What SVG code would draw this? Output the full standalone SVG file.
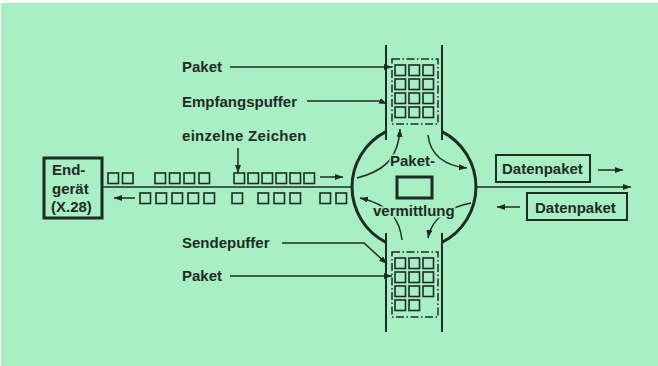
<svg xmlns="http://www.w3.org/2000/svg" width="658" height="366" viewBox="0 0 658 366">
<defs>
<style>
.ink{stroke:#1f2b26;fill:none}
.t{font-family:"Liberation Sans",Arial,sans-serif;font-weight:bold;font-size:15px;fill:#1f2b26}
.halo{stroke:#a8efc3;stroke-width:3;paint-order:stroke}
.sq{stroke:#1f2b26;stroke-width:1.6;fill:none}
.dd{stroke:#1f2b26;stroke-width:1.5;fill:none;stroke-dasharray:8 2.5 1.5 2.5}
.ln{stroke:#1f2b26;stroke-width:1.5;fill:none}
</style>
<marker id="ah" markerUnits="userSpaceOnUse" markerWidth="10" markerHeight="8" refX="8" refY="3" orient="auto">
<path d="M0,0 L8,3 L0,6 z" fill="#1f2b26"/>
</marker>
<rect id="s" width="10.5" height="10.5" class="sq"/>
</defs>
<rect width="658" height="366" fill="#ffffff"/>
<rect x="1" y="3" width="657" height="363" fill="#a8efc3"/>

<g id="endgeraet">
<rect x="44" y="158" width="58" height="60" class="ink" stroke-width="3"/>
<text class="t" x="52" y="175">End-</text>
<text class="t" x="52" y="194">gerät</text>
<text class="t" x="51" y="212">(X.28)</text>
</g>

<g id="zeichen-oben">
<use href="#s" x="108" y="173"/><use href="#s" x="122.5" y="173"/>
<use href="#s" x="155" y="173"/><use href="#s" x="169.5" y="173"/><use href="#s" x="184" y="173"/><use href="#s" x="199" y="173"/>
<use href="#s" x="234" y="173"/><use href="#s" x="248" y="173"/><use href="#s" x="262" y="173"/><use href="#s" x="276" y="173"/><use href="#s" x="290" y="173"/><use href="#s" x="304" y="173"/>
</g>
<g id="zeichen-unten">
<use href="#s" x="140" y="193"/><use href="#s" x="156" y="193"/><use href="#s" x="172" y="193"/><use href="#s" x="188" y="193"/><use href="#s" x="204" y="193"/>
<use href="#s" x="232" y="193"/>
<use href="#s" x="258" y="193"/><use href="#s" x="274" y="193"/><use href="#s" x="290" y="193"/>
<use href="#s" x="320" y="193"/><use href="#s" x="336" y="193"/>
</g>

<g id="empfangspuffer">
<rect x="392" y="59" width="46" height="65" class="dd"/>
<use href="#s" x="395" y="65"/><use href="#s" x="409" y="65"/><use href="#s" x="423" y="65"/>
<use href="#s" x="395" y="79"/><use href="#s" x="409" y="79"/><use href="#s" x="423" y="79"/>
<use href="#s" x="395" y="93"/><use href="#s" x="409" y="93"/><use href="#s" x="423" y="93"/>
<use href="#s" x="395" y="107"/><use href="#s" x="409" y="107"/><use href="#s" x="423" y="107"/>
</g>

<g id="sendepuffer">
<rect x="392" y="252" width="46" height="65" class="dd"/>
<use href="#s" x="395" y="258"/><use href="#s" x="409" y="258"/><use href="#s" x="423" y="258"/>
<use href="#s" x="395" y="272"/><use href="#s" x="409" y="272"/><use href="#s" x="423" y="272"/>
<use href="#s" x="395" y="286"/><use href="#s" x="409" y="286"/><use href="#s" x="423" y="286"/>
<use href="#s" x="395" y="300"/><use href="#s" x="409" y="300"/>
</g>

<g id="paketvermittlung">
<path d="M386,45 V140 M442,45 V140 M386,233 V332 M442,233 V332" class="ink" stroke-width="2"/>
<path d="M386,131.7 A62,62 0 0 0 386,242.3 M442,131.7 A62,62 0 0 1 442,242.3" class="ink" stroke-width="3"/>
<rect x="397" y="177" width="35" height="21" class="ink" stroke-width="3"/>
</g>

<g id="datenpaket-aus">
<rect x="496" y="155" width="94" height="27" class="ink" stroke-width="2"/>
<text class="t" x="502" y="174">Datenpaket</text>
</g>
<g id="datenpaket-ein">
<rect x="527" y="193" width="100" height="27" class="ink" stroke-width="2"/>
<text class="t" x="535" y="213">Datenpaket</text>
</g>

<g id="connectors">
<path d="M102,187 H353" class="ln"/>
<path d="M476,187 H631" class="ln" marker-end="url(#ah)"/>
<path d="M320,177 H343" class="ln" marker-end="url(#ah)"/>
<path d="M135,198 H114" class="ln" marker-end="url(#ah)"/>
<path d="M598,170 H623" class="ln" marker-end="url(#ah)"/>
<path d="M520,207 H497" class="ln" marker-end="url(#ah)"/>
<path d="M230,67 H392" class="ln" marker-end="url(#ah)"/>
<path d="M307,101 H380 L387,104" class="ln" marker-end="url(#ah)"/>
<path d="M238,148 V173" class="ln" marker-end="url(#ah)"/>
<path d="M282,243 H364 L387,264" class="ln" marker-end="url(#ah)"/>
<path d="M230,276 H392" class="ln" marker-end="url(#ah)"/>
<path d="M357,178 C380,172 398,162 400,129" class="ln" marker-end="url(#ah)"/>
<path d="M428,135 C430,155 445,166 467,168" class="ln" marker-end="url(#ah)"/>
<path d="M402,240 C400,222 392,205 360,198" class="ln" marker-end="url(#ah)"/>
<path d="M471,203 C455,206 432,215 428,238" class="ln" marker-end="url(#ah)"/>
</g>

<g id="labels">
<text class="t" x="182" y="72">Paket</text>
<text class="t" x="182" y="107">Empfangspuffer</text>
<text class="t" x="182" y="141" letter-spacing="0.3">einzelne Zeichen</text>
<text class="t" x="182" y="248">Sendepuffer</text>
<text class="t" x="182" y="281">Paket</text>
<text class="t halo" x="390" y="166" font-size="14">Paket-</text>
<text class="t halo" x="373" y="216">vermittlung</text>
</g>
</svg>
